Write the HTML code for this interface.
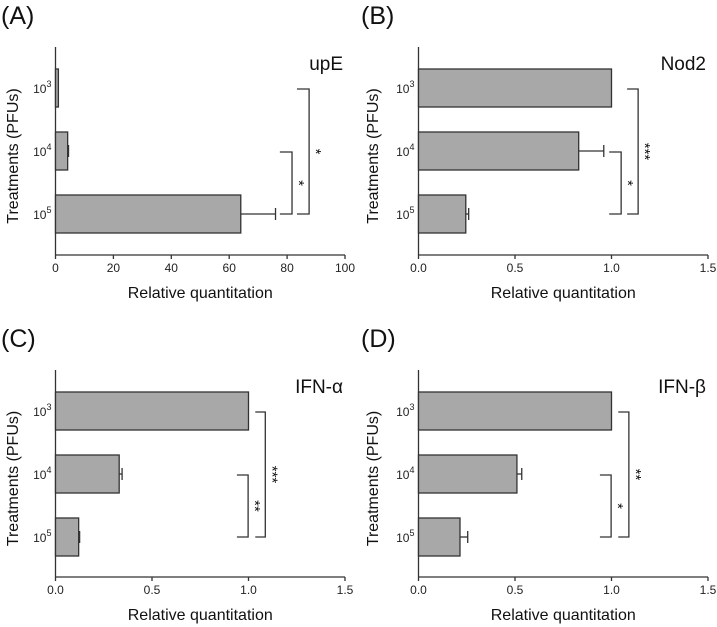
<!DOCTYPE html>
<html><head><meta charset="utf-8"><style>
body{margin:0;background:#fff}
svg{display:block;font-family:"Liberation Sans",Arial,sans-serif}
</style></head><body>
<svg id="fig" width="717" height="627" viewBox="0 0 717 627"></svg>
<script>
const categories=["3","4","5"];
const upeValues=[1,4.2,64];
const upeErrors=[1,4.5,76];
const nod2Values=[1.0,0.83,0.245];
const nod2Errors=[1.0,0.96,0.26];
const ifnaValues=[1.0,0.33,0.12];
const ifnaErrors=[1.0,0.345,0.125];
const ifnbValues=[1.0,0.51,0.215];
const ifnbErrors=[1.0,0.535,0.255];
const upeTicks=["0","20","40","60","80","100"];
const foldTicks=["0.0","0.5","1.0","1.5"];
const NS="http://www.w3.org/2000/svg";
const svg=document.getElementById('fig');
function mk(tag,attrs,parent){const e=document.createElementNS(NS,tag);for(const k in attrs)e.setAttribute(k,attrs[k]);(parent||svg).appendChild(e);return e;}
const panels=[
 {id:'a',label:'(A)',gene:'upE',px:0,ax:55.5,top:47,bottom:255,xmax:100,ticks:upeTicks,vals:upeValues,errs:upeErrors,
  brackets:[{a:1,b:2,x1:77.5,x2:81.7,s:'*'},{a:0,b:2,x1:83.4,x2:87.6,s:'*'}]},
 {id:'b',label:'(B)',gene:'Nod2',px:360,ax:418.5,top:47,bottom:255,xmax:1.5,ticks:foldTicks,vals:nod2Values,errs:nod2Errors,
  brackets:[{a:1,b:2,x1:0.988,x2:1.05,s:'*'},{a:0,b:2,x1:1.081,x2:1.138,s:'***'}]},
 {id:'c',label:'(C)',gene:'IFN-α',px:0,ax:55.5,top:370,bottom:577,xmax:1.5,ticks:foldTicks,vals:ifnaValues,errs:ifnaErrors,
  brackets:[{a:1,b:2,x1:0.94,x2:0.998,s:'**'},{a:0,b:2,x1:1.035,x2:1.087,s:'***'}]},
 {id:'d',label:'(D)',gene:'IFN-β',px:360,ax:418.5,top:370,bottom:577,xmax:1.5,ticks:foldTicks,vals:ifnbValues,errs:ifnbErrors,
  brackets:[{a:1,b:2,x1:0.94,x2:0.998,s:'*'},{a:0,b:2,x1:1.035,x2:1.09,s:'**'}]}
];
const W=289.5;
panels.forEach(p=>{
 const g=mk('g',{});
 
 
 const xs=v=>p.ax+v/p.xmax*W;
 const yc=i=>p.top+41+i*63;
 const lab=mk('text',{x:p.px+1,y:p.top-23,'font-size':25,fill:'#111'},g);lab.textContent=p.label;
 
 const gn=mk('text',{x:p.ax+W-2,y:p.top+23,'font-size':19,'text-anchor':'end',fill:'#111'},g);gn.textContent=p.gene;
 
 const ya=mk('line',{x1:p.ax,y1:p.top,x2:p.ax,y2:p.bottom,stroke:'#333','stroke-width':1.3},g);
 
 const xa=mk('line',{x1:p.ax,y1:p.bottom,x2:p.ax+W,y2:p.bottom,stroke:'#333','stroke-width':1.3},g);
 
 p.ticks.forEach(t=>{
  const x=xs(parseFloat(t));
  mk('line',{x1:x,y1:p.bottom,x2:x,y2:p.bottom+4,stroke:'#333','stroke-width':1.3},g);
  const tt=mk('text',{x:x,y:p.bottom+17,'font-size':12,'text-anchor':'middle',fill:'#222'},g);tt.textContent=t;
  
 });
 const xt=mk('text',{x:p.ax+W/2,y:p.bottom+43,'font-size':16,'text-anchor':'middle',fill:'#111'},g);xt.textContent='Relative quantitation';
 
 const cy=(p.top+p.bottom)/2+5;
 const ytl=mk('text',{x:p.px+18,y:cy,'font-size':16,'text-anchor':'middle',fill:'#111',transform:`rotate(-90 ${p.px+18} ${cy})`},g);ytl.textContent='Treatments (PFUs)';
 
 categories.forEach((c,i)=>{
  const y=yc(i);
  const t=mk('text',{x:p.ax-4,y:y+5,'font-size':12,'text-anchor':'end',fill:'#222'},g);
  t.innerHTML='10<tspan dy="-6" font-size="9">'+c+'</tspan>';
  
  const v=p.vals[i],e=p.errs[i];
  if(e>v){
   const el=mk('line',{x1:xs(v),y1:y,x2:xs(e),y2:y,stroke:'#333','stroke-width':1.3},g);
   
   mk('line',{x1:xs(e),y1:y-6,x2:xs(e),y2:y+6,stroke:'#333','stroke-width':1.3},g);
  }
  const r=mk('rect',{x:p.ax,y:y-19,width:Math.max(xs(v)-p.ax,0.5),height:38,fill:'#a8a8a8',stroke:'#333','stroke-width':1.3},g);
  
 });
 p.brackets.forEach(b=>{
  const x1=xs(b.x1),x2=xs(b.x2),y1=yc(b.a)+1,y2=yc(b.b);
  const pl=mk('polyline',{points:`${x1},${y1} ${x2},${y1} ${x2},${y2} ${x1},${y2}`,fill:'none',stroke:'#333','stroke-width':1.3},g);
  
  const sx=x2+2,sy=(y1+y2)/2;
  const st=mk('text',{x:sx,y:sy,'font-size':15,'text-anchor':'middle',fill:'#111',transform:`rotate(90 ${sx} ${sy})`},g);st.textContent=b.s;
  
 });
});
</script>
</body></html>
